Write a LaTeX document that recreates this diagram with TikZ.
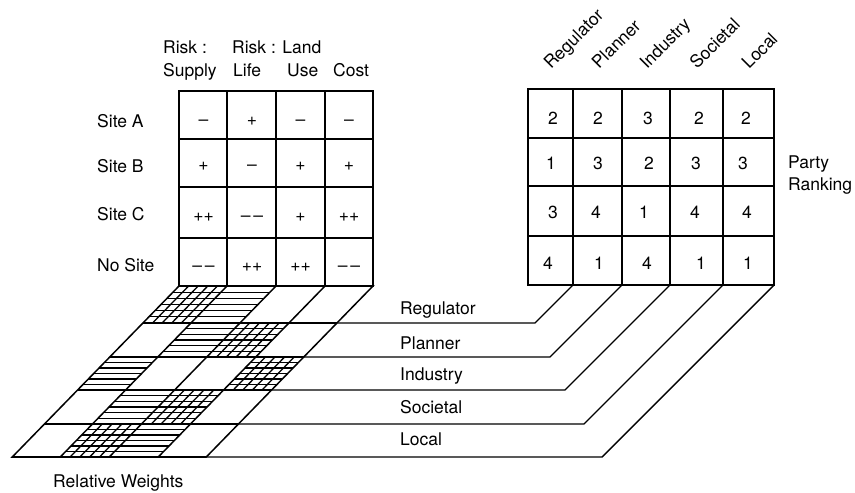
\documentclass[tikz,border=0pt]{standalone}
\usepackage{fontspec}
\setmainfont{TeX Gyre Heros}
\newcommand\hatchH[4]{%
  \foreach \i in {1,...,5}
    \draw[hat] (#1,{#3+\i*(#4-#3)/6}) -- (#2,{#3+\i*(#4-#3)/6});}
\newcommand\hatchC[4]{%
  \hatchH{#1}{#2}{#3}{#4}%
  \foreach \j in {1,...,4}
    \draw[hat] ({#1+\j*(#2-#1)/5},#3) -- ({#1+\j*(#2-#1)/5},#4);}
\newcommand\dd{\textendash\hspace{3pt}\textendash}
\begin{document}
\begin{tikzpicture}[x=1pt,y=-1pt,
  tbl/.style={line width=1.9pt},
  grd/.style={line width=1.5pt},
  con/.style={line width=1.4pt, line join=miter},
  hat/.style={line width=1.3pt},
  lbl/.style={font=\fontsize{17.5}{21}\selectfont, inner sep=0pt, anchor=base west},
  val/.style={font=\fontsize{17.5}{21}\selectfont, inner sep=0pt, anchor=base},
]
\useasboundingbox (0,0) rectangle (855,493);

% ---------- left table ----------
\coordinate (LTnw) at (179,91);
\coordinate (LTse) at (373,286);
\draw[tbl] (LTnw) rectangle (LTse);
\foreach \x in {227,276,325} \draw[tbl] (\x,91) -- (\x,286);
\foreach \y in {139,187,238} \draw[tbl] (179,\y) -- (373,\y);

\node[lbl] (hA) at (163,53) {Risk :};
\node[lbl] (hB) at (232,53) {Risk : Land};
\node[lbl] (hS) at (163,76) {Supply};
\node[lbl] (hL) at (233,76) {Life};
\node[lbl] (hU) at (287,76) {Use};
\node[lbl] (hC) at (333,76) {Cost};

\node[lbl] (sA) at (97,127) {Site A};
\node[lbl] (sB) at (97,172) {Site B};
\node[lbl] (sC) at (97,220) {Site C};
\node[lbl] (sN) at (97,271) {No Site};

\foreach \t [count=\c] in {\textendash,+,\textendash,\textendash}
  \node[val] (la\c) at ({155+48.5*\c},125) {\t};
\foreach \t [count=\c] in {+,\textendash,+,+}
  \node[val] (lb\c) at ({155+48.5*\c},170) {\t};
\foreach \t [count=\c] in {++,\dd,+,++}
  \node[val] (lc\c) at ({155+48.5*\c},221) {\t};
\foreach \t [count=\c] in {\dd,++,++,\dd}
  \node[val] (ld\c) at ({155+48.5*\c},271) {\t};

% ---------- right table ----------
\coordinate (RTnw) at (528,89);
\coordinate (RTse) at (774,285);
\draw[tbl] (RTnw) rectangle (RTse);
\foreach \x in {573,622,670,723} \draw[tbl] (\x,89) -- (\x,285);
\foreach \y in {138,186,236} \draw[tbl] (528,\y) -- (774,\y);
\foreach \x/\n in {573/1,622/2,670/3,723/4,774/5} \coordinate (rbot\n) at (\x,285);

\foreach \x/\t in {551/Regulator,599/Planner,647/Industry,697/Societal,749/Local}
  \node[lbl, rotate=45] (p\t) at (\x,70) {\t};

\foreach \x/\t [count=\c] in {553/2,598/2,648/3,699/2,746/2}
  \node[val] (ra\c) at (\x,124) {\t};
\foreach \x/\t [count=\c] in {551/1,598/3,649/2,696/3,743/3}
  \node[val] (rb\c) at (\x,169) {\t};
\foreach \x/\t [count=\c] in {553/3,596/4,644/1,695/4,747/4}
  \node[val] (rc\c) at (\x,218) {\t};
\foreach \x/\t [count=\c] in {548/4,599/1,647/4,701/1,748/1}
  \node[val] (rd\c) at (\x,269) {\t};

\node[lbl] (party) at (788,168) {Party};
\node[lbl] (rank) at (788,190) {Ranking};

% ---------- weights grid ----------
\begin{scope}[shift={(0,286)}, xslant=0.975]
  \hatchC{179}{227}{0}{37}
  \hatchH{227}{276}{0}{37}
  \hatchH{227}{276}{37}{71}
  \hatchC{276}{325}{37}{71}
  \hatchH{179}{227}{71}{104}
  \hatchC{325}{373}{71}{104}
  \hatchH{227}{276}{104}{138}
  \hatchC{276}{325}{104}{138}
  \hatchC{227}{276}{138}{171}
  \hatchH{276}{325}{138}{171}
  \draw[grd] (179,0) rectangle (373,171);
  \foreach \u in {227,276,325} \draw[grd] (\u,0) -- (\u,171);
  \foreach \v/\n in {37/1,71/2,104/3,138/4,171/5}
    \draw[grd] (179,\v) -- (373,\v) coordinate (g\n);
\end{scope}

% ---------- connectors ----------
\coordinate (k1) at (535,323);
\coordinate (k2) at (550,357);
\coordinate (k3) at (565,390);
\coordinate (k4) at (584,424);
\coordinate (k5) at (602,457);
\foreach \n in {1,...,5} \draw[con] (g\n) -- (k\n) -- (rbot\n);

\node[lbl] (cReg) at (400,314) {Regulator};
\node[lbl] (cPla) at (400,349) {Planner};
\node[lbl] (cInd) at (400,380) {Industry};
\node[lbl] (cSoc) at (400,413) {Societal};
\node[lbl] (cLoc) at (400,445) {Local};

\node[lbl] (rw) at (53,487) {Relative Weights};
\end{tikzpicture}
\end{document}
